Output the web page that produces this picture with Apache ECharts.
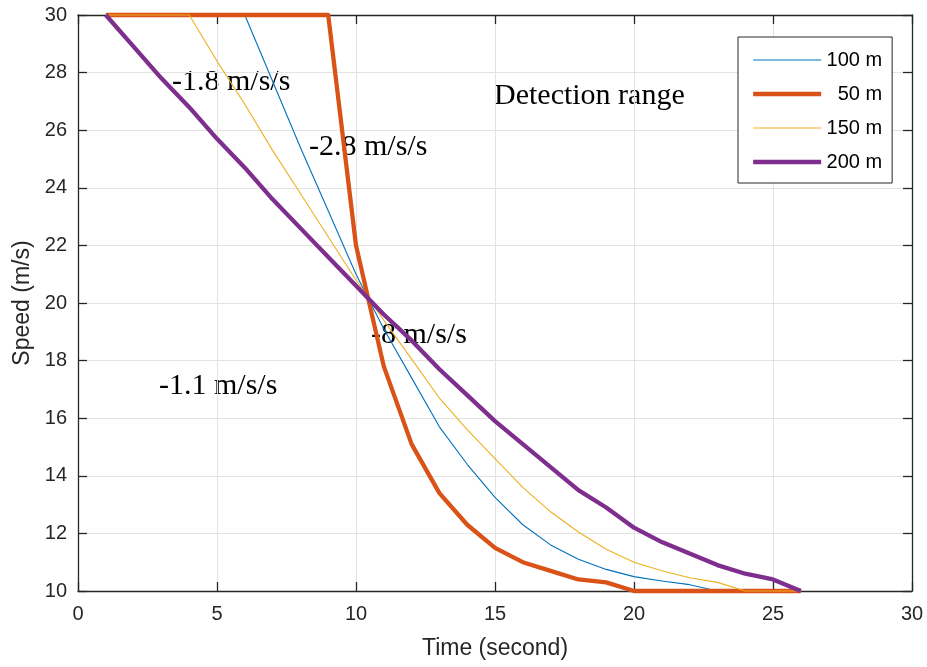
<!DOCTYPE html>
<html>
<head>
<meta charset="utf-8">
<script src="https://cdn.jsdelivr.net/npm/echarts@6/dist/echarts.min.js"></script>
<style>
html,body{margin:0;padding:0;background:#fff;}
#c{width:927px;height:667px;}
</style>
</head>
<body>
<div id="c"></div>
<script>
var times = [1,2,3,4,5,6,7,8,9,10,11,12,13,14,15,16,17,18,19,20,21,22,23,24,25,26];
var speed100 = [30,30,30,30,30,30,27.7,25.4,23.2,21.0,19.1,17.4,15.7,14.4,13.25,12.3,11.6,11.1,10.75,10.5,10.35,10.22,10.0,10,10,10];
var speed50  = [30,30,30,30,30,30,30,30,30,22.0,17.8,15.1,13.4,12.3,11.5,11.0,10.7,10.4,10.3,10.0,10,10,10,10,10,10];
var speed150 = [30,30,30,30,28.4,26.9,25.3,23.8,22.3,20.8,19.4,18.05,16.7,15.6,14.6,13.6,12.75,12.05,11.45,11.0,10.7,10.46,10.3,10,10,10];
var speed200 = [30,28.9,27.8,26.8,25.7,24.7,23.6,22.6,21.6,20.6,19.6,18.7,17.7,16.8,15.9,15.1,14.3,13.5,12.9,12.2,11.7,11.3,10.9,10.6,10.4,10.0];
var seriesNames = ['100 m', '50 m', '150 m', '200 m'];
var xTicks = {min: 0, max: 30, interval: 5};
var yTicks = {min: 10, max: 30, interval: 2};

function pairs(v){ return times.map(function(t,i){ return [t, v[i]]; }); }

var axisColor = '#262626';
var sans = '"Liberation Sans", Arial, Helvetica, sans-serif';
var serif = '"Liberation Serif", "Times New Roman", serif';
var colors = ['#0072BD', '#D95319', '#EDB120', '#7E2F8E'];
var widths = [1.1, 4.3, 1.1, 4.3];

var chart = echarts.init(document.getElementById('c'), null, {renderer: 'canvas'});

function mkSeries(i, data){
  return {
    name: seriesNames[i], type: 'line', data: pairs(data), showSymbol: false, symbol: 'none',
    clip: false, smooth: false,
    lineStyle: {color: colors[i], width: widths[i], join: 'round'},
    itemStyle: {color: colors[i]},
    emphasis: {disabled: true}
  };
}

chart.setOption({
  animation: false,
  backgroundColor: '#ffffff',
  grid: {left: 78, right: 15, top: 15, bottom: 76, containLabel: false},
  legend: {
    orient: 'vertical', left: 738, top: 37,
    padding: [13, 10, 11, 13],
    itemWidth: 68, itemHeight: 14, itemGap: 14,
    backgroundColor: '#ffffff',
    borderColor: axisColor, borderWidth: 1,
    itemStyle: {opacity: 0, borderWidth: 0},
    data: seriesNames.map(function(n, i){
      return {name: n, lineStyle: {color: colors[i], width: widths[i]}};
    }),
    formatter: function(n){ return '{a|' + n + '}'; },
    textStyle: {
      rich: {a: {width: 56, align: 'right', fontSize: 20, fontFamily: sans, color: '#000'}}
    }
  },
  xAxis: [{
    type: 'value', min: xTicks.min, max: xTicks.max, interval: xTicks.interval,
    name: 'Time (second)', nameLocation: 'middle', nameGap: 46,
    nameTextStyle: {fontSize: 23, fontFamily: sans, color: axisColor},
    axisLine: {show: true, onZero: false, lineStyle: {color: axisColor, width: 1.3}},
    axisTick: {show: true, inside: true, length: 9, lineStyle: {color: axisColor, width: 1.3}},
    axisLabel: {fontSize: 20, fontFamily: sans, color: axisColor, margin: 13},
    splitLine: {show: true, lineStyle: {color: '#e3e3e3', width: 1}}
  }, {
    type: 'value', position: 'top', min: xTicks.min, max: xTicks.max, interval: xTicks.interval,
    axisLine: {show: true, onZero: false, lineStyle: {color: axisColor, width: 1.3}},
    axisTick: {show: true, inside: true, length: 9, lineStyle: {color: axisColor, width: 1.3}},
    axisLabel: {show: false}, splitLine: {show: false}
  }],
  yAxis: [{
    type: 'value', min: yTicks.min, max: yTicks.max, interval: yTicks.interval,
    name: 'Speed (m/s)', nameLocation: 'middle', nameGap: 44,
    nameTextStyle: {fontSize: 23, fontFamily: sans, color: axisColor},
    axisLine: {show: true, onZero: false, lineStyle: {color: axisColor, width: 1.3}},
    axisTick: {show: true, inside: true, length: 9, lineStyle: {color: axisColor, width: 1.3}},
    axisLabel: {fontSize: 20, fontFamily: sans, color: axisColor, margin: 11},
    splitLine: {show: true, lineStyle: {color: '#e3e3e3', width: 1}}
  }, {
    type: 'value', position: 'right', min: yTicks.min, max: yTicks.max, interval: yTicks.interval,
    axisLine: {show: true, onZero: false, lineStyle: {color: axisColor, width: 1.3}},
    axisTick: {show: true, inside: true, length: 9, lineStyle: {color: axisColor, width: 1.3}},
    axisLabel: {show: false}, splitLine: {show: false}
  }],
  series: [
    mkSeries(0, speed100),
    mkSeries(1, speed50),
    mkSeries(2, speed150),
    mkSeries(3, speed200)
  ],
  graphic: [
    {type: 'text', left: 172, top: 67, style: {text: '-1.8 m/s/s', font: '30px ' + serif, fill: '#000'}},
    {type: 'text', left: 309, top: 132, style: {text: '-2.8 m/s/s', font: '30px ' + serif, fill: '#000'}},
    {type: 'text', left: 494, top: 81, style: {text: 'Detection range', font: '30px ' + serif, fill: '#000'}},
    {type: 'text', left: 371, top: 320, style: {text: '-8 m/s/s', font: '30px ' + serif, fill: '#000'}},
    {type: 'text', left: 159, top: 371, style: {text: '-1.1 m/s/s', font: '30px ' + serif, fill: '#000'}}
  ]
});
</script>
</body>
</html>
